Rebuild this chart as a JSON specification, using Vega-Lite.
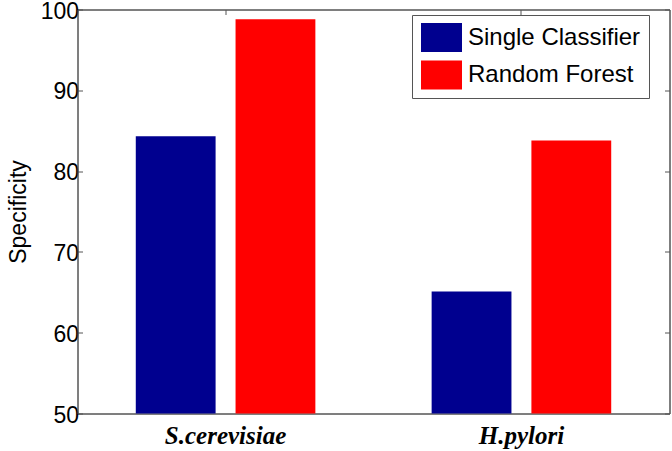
{
  "$schema": "https://vega.github.io/schema/vega-lite/v6.json",
  "width": 592,
  "height": 404,
  "autosize": {"type": "none"},
  "padding": {"left": 77.5, "top": 9.5, "right": 2.5, "bottom": 37.5},
  "background": "white",
  "data": {
    "values": [
      {"organism": "S.cerevisiae", "method": "Single Classifier", "specificity": 84.3},
      {"organism": "S.cerevisiae", "method": "Random Forest", "specificity": 98.8},
      {"organism": "H.pylori", "method": "Single Classifier", "specificity": 65.1},
      {"organism": "H.pylori", "method": "Random Forest", "specificity": 83.8}
    ]
  },
  "config": {
    "view": {"stroke": "#555", "strokeWidth": 1},
    "font": "Liberation Sans",
    "axis": {"grid": false, "domainColor": "#555", "tickColor": "#555", "labelColor": "black", "titleColor": "black"}
  },
  "layer": [
    {
      "mark": {"type": "bar", "clip": true},
      "encoding": {
        "x": {
          "field": "organism", "type": "nominal",
          "sort": ["S.cerevisiae", "H.pylori"],
          "scale": {"paddingInner": 0.393, "paddingOuter": 0.197},
          "axis": {"orient": "bottom", "title": null, "ticks": false, "labelAngle": 0, "labelFont": "Liberation Serif", "labelFontWeight": "bold", "labelFontStyle": "italic", "labelFontSize": 25, "labelPadding": 10, "labelLimit": 0}
        },
        "xOffset": {"field": "method", "type": "nominal", "sort": ["Single Classifier", "Random Forest"], "scale": {"paddingInner": 0.2}},
        "y": {
          "field": "specificity", "type": "quantitative",
          "scale": {"domain": [50, 100], "nice": false, "zero": false},
          "axis": {"orient": "left", "title": "Specificity", "values": [50, 60, 70, 80, 90, 100], "tickSize": -5, "labelFontSize": 23, "labelPadding": 4, "labelOffset": 1.5, "labelLimit": 0, "titleFontSize": 23, "titleFontWeight": "normal", "titlePadding": 10}
        },
        "color": {
          "field": "method", "type": "nominal",
          "sort": ["Single Classifier", "Random Forest"],
          "scale": {"domain": ["Single Classifier", "Random Forest"], "range": ["#00008F", "#FF0000"]},
          "legend": {
            "orient": "none", "legendX": 334.5, "legendY": 5.5, "title": null,
            "labelFontSize": 24, "labelColor": "black", "labelFont": "Liberation Sans", "labelLimit": 0,
            "symbolType": "M-1.414,-1H1.414V1H-1.414Z", "symbolSize": 841, "symbolStrokeWidth": 0, "symbolOpacity": 1, "symbolOffset": 7,
            "strokeColor": "#555", "fillColor": "white", "padding": 8, "labelOffset": 12, "rowPadding": 8.5
          }
        }
      }
    },
    {
      "mark": {"type": "bar", "opacity": 0, "clip": true},
      "encoding": {
        "x": {
          "field": "organism", "type": "nominal",
          "sort": ["S.cerevisiae", "H.pylori"],
          "scale": {"paddingInner": 0.393, "paddingOuter": 0.197},
          "axis": {"orient": "top", "title": null, "labels": false, "tickSize": -5}
        },
        "y": {
          "field": "specificity", "type": "quantitative",
          "scale": {"domain": [50, 100], "nice": false, "zero": false},
          "axis": {"orient": "right", "title": null, "labels": false, "values": [50, 60, 70, 80, 90, 100], "tickSize": -5}
        }
      }
    }
  ],
  "resolve": {"axis": {"x": "independent", "y": "independent"}}
}
